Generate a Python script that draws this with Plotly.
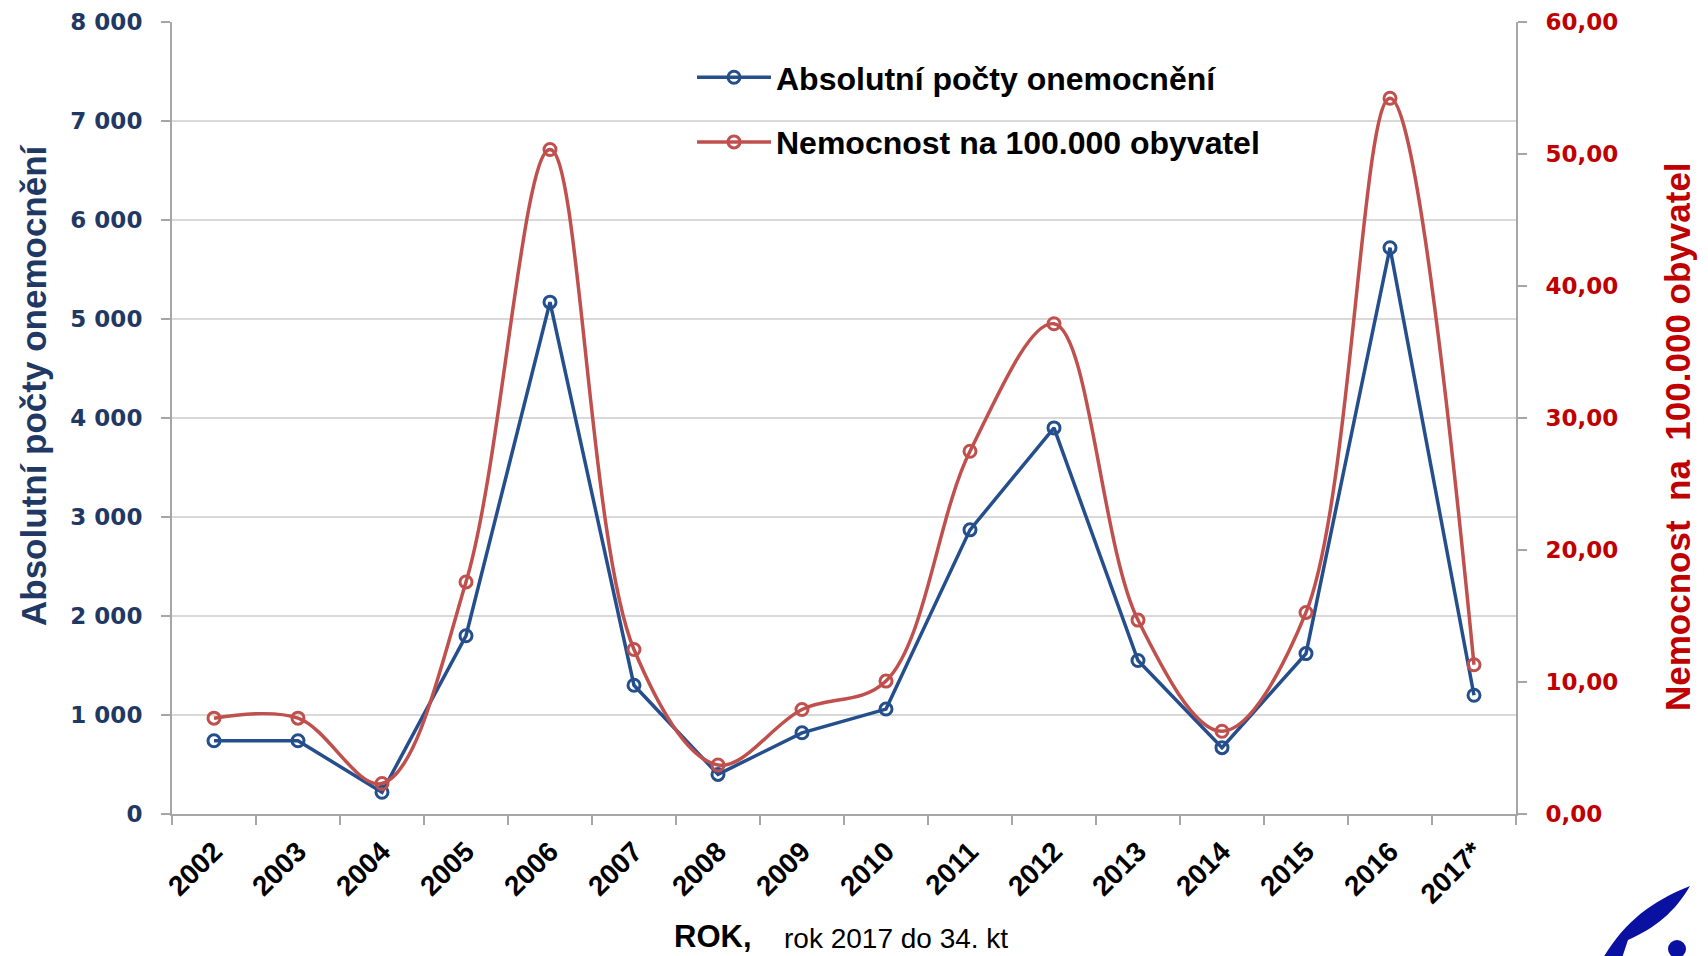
import plotly.graph_objects as go

# data
years = ["2002", "2003", "2004", "2005", "2006", "2007", "2008", "2009",
         "2010", "2011", "2012", "2013", "2014", "2015", "2016", "2017*"]
absolute_cases = [740, 740, 220, 1800, 5170, 1300, 400, 820,
                  1060, 2870, 3900, 1550, 670, 1620, 5720, 1200]
incidence_100k = [7.26, 7.26, 2.31, 17.58, 50.34, 12.46, 3.71, 7.92,
                  10.07, 27.48, 37.14, 14.69, 6.27, 15.27, 54.22, 11.31]

BLUE = "#254F8C"
RED = "#C0504D"
NAVY = "#1F3864"
DARKRED = "#C00000"
AXIS_GREY = "#A6A6A6"

# the page body adds an 8px margin, so the figure is drawn 8px smaller
# and all screen positions below are shifted by that offset
OFF = 8
W, H = 1708 - OFF, 956 - OFF
X0, X1, Y0, Y1 = 172, 1516, 22, 814      # plot area on screen
L, T = X0 - OFF, Y0 - OFF
R, B = W - (X1 - OFF), H - (Y1 - OFF)
PW, PH = X1 - X0, Y1 - Y0


def to_paper(x, y):
    return (x - X0) / PW, (Y1 - y) / PH


fig = go.Figure()

fig.add_trace(go.Scatter(
    x=years, y=absolute_cases, name="Absolutní počty onemocnění",
    mode="lines+markers", legendgroup="a",
    line=dict(color=BLUE, width=3.5),
    marker=dict(symbol="circle-open", size=12, color=BLUE, line=dict(width=3)),
))
fig.add_trace(go.Scatter(
    x=years, y=incidence_100k, name="Nemocnost na 100.000 obyvatel",
    mode="lines+markers", legendgroup="b", yaxis="y2",
    line=dict(color=RED, width=3.5, shape="spline", smoothing=1.0),
    marker=dict(symbol="circle-open", size=12, color=RED, line=dict(width=3)),
))

# logo fragment in the bottom-right corner
p = [to_paper(*pt) for pt in [(1603, 958), (1625, 922), (1650, 902), (1690, 886),
                              (1675, 912), (1655, 928), (1628, 940), (1622, 958)]]
leaf = (f"M {p[0][0]} {p[0][1]} C {p[1][0]} {p[1][1]}, {p[2][0]} {p[2][1]}, {p[3][0]} {p[3][1]} "
        f"C {p[4][0]} {p[4][1]}, {p[5][0]} {p[5][1]}, {p[6][0]} {p[6][1]} "
        f"L {p[7][0]} {p[7][1]} Z")
c0 = to_paper(1668, 958)
c1 = to_paper(1686, 940)

fig.update_layout(
    width=W, height=H,
    margin=dict(l=L, r=R, t=T, b=B, autoexpand=False),
    paper_bgcolor="white", plot_bgcolor="white",
    separators=", ",
    font=dict(family="DejaVu Sans, Liberation Sans, Arial", color="black"),
    showlegend=True,
    legend=dict(
        x=to_paper(692, 0)[0], y=to_paper(0, 50)[1], xanchor="left", yanchor="top",
        font=dict(family="Liberation Sans, Arial", size=32, color="black", weight="bold"),
        tracegroupgap=20, itemwidth=74, bgcolor="rgba(0,0,0,0)",
    ),
    xaxis=dict(
        type="category", range=[-0.5, len(years) - 0.5],
        tickson="boundaries", ticks="outside", ticklen=9,
        tickcolor=AXIS_GREY, tickwidth=2, showline=True, linecolor=AXIS_GREY, linewidth=2,
        showgrid=False, tickangle=-45, automargin=False, ticklabelstandoff=8,
        tickfont=dict(family="Liberation Sans, Arial", size=28, color="black", weight="bold"),
    ),
    yaxis=dict(
        range=[0, 8000], dtick=1000, tickformat=",d", automargin=False,
        showgrid=True, gridcolor="#D9D9D9", gridwidth=1.5,
        showline=True, linecolor=AXIS_GREY, linewidth=2,
        ticks="outside", ticklen=9, tickcolor=AXIS_GREY, tickwidth=2,
        ticklabelstandoff=14,
        tickfont=dict(family="DejaVu Sans, Verdana", size=23, color=NAVY, weight="bold"),
        zeroline=False,
    ),
    yaxis2=dict(
        range=[0, 60], dtick=10, tickformat=".2f", overlaying="y", side="right",
        showgrid=False, zeroline=False, automargin=False,
        showline=True, linecolor=AXIS_GREY, linewidth=2,
        ticks="outside", ticklen=9, tickcolor=AXIS_GREY, tickwidth=2,
        ticklabelstandoff=14,
        tickfont=dict(family="DejaVu Sans, Verdana", size=23, color=DARKRED, weight="bold"),
    ),
    shapes=[
        dict(type="path", path=leaf, xref="paper", yref="paper",
             fillcolor="#0A10A0", line=dict(width=0)),
        dict(type="circle", xref="paper", yref="paper",
             x0=c0[0], y0=c0[1], x1=c1[0], y1=c1[1],
             fillcolor="#0A10A0", line=dict(width=0)),
    ],
    annotations=[
        dict(text="Absolutní počty onemocnění", textangle=-90,
             x=to_paper(33, 0)[0], y=to_paper(0, 385)[1], xref="paper", yref="paper",
             showarrow=False, xanchor="center", yanchor="middle",
             font=dict(family="Liberation Sans Narrow, Arial Narrow, Liberation Sans",
                       size=35, color=NAVY, weight="bold")),
        dict(text="Nemocnost  na  100.000 obyvatel", textangle=-90,
             x=to_paper(1677, 0)[0], y=to_paper(0, 437)[1], xref="paper", yref="paper",
             showarrow=False, xanchor="center", yanchor="middle",
             font=dict(family="Liberation Sans Narrow, Arial Narrow, Liberation Sans",
                       size=35, color=DARKRED, weight="bold")),
        dict(text="ROK,", x=to_paper(713, 0)[0], y=to_paper(0, 936)[1],
             xref="paper", yref="paper", showarrow=False,
             xanchor="center", yanchor="middle",
             font=dict(family="Liberation Sans, Arial", size=31, color="black", weight="bold")),
        dict(text="rok 2017 do 34. kt", x=to_paper(782, 0)[0], y=to_paper(0, 938)[1],
             xref="paper", yref="paper", showarrow=False,
             xanchor="left", yanchor="middle",
             font=dict(family="Liberation Sans, Arial", size=28, color="black")),
    ],
)

fig.write_html("out.html")
